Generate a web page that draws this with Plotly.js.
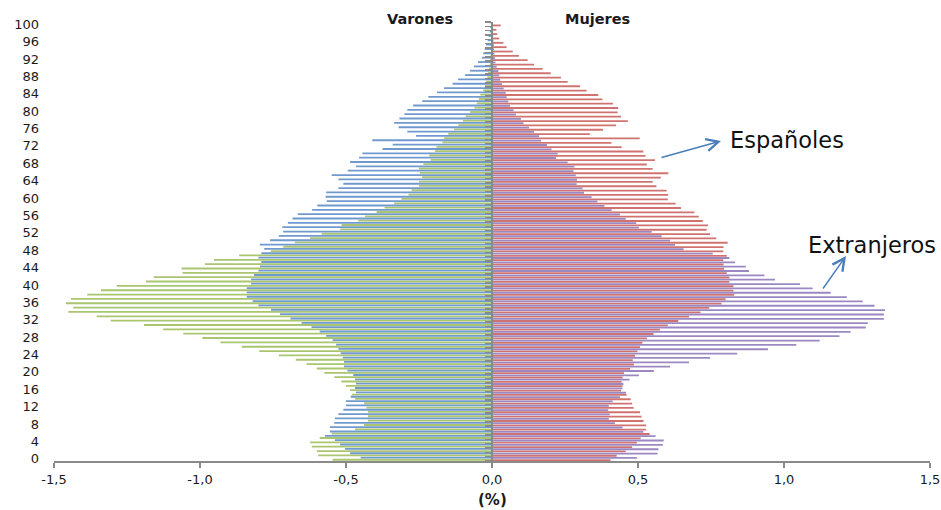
<!DOCTYPE html>
<html>
<head>
<meta charset="utf-8">
<script src="https://cdn.plot.ly/plotly-3.0.1.min.js"></script>
<style>html,body{margin:0;padding:0;background:#fff}#chart{width:941px;height:510px}</style>
</head>
<body>
<div id="chart"></div>
<script>
// Ages 0..100
const ages = Array.from({length: 101}, (_, i) => i);
const ageTicks = [0,4,8,12,16,20,24,28,32,36,40,44,48,52,56,60,64,68,72,76,80,84,88,92,96,100];
const xTicks = [-1.5,-1.0,-0.5,0,0.5,1.0,1.5];
const xTickText = ['-1,5','-1,0','-0,5','0,0','0,5','1,0','1,5'];

// Varones españoles (% , negative side)
const varonesEsp = [
-0.45,-0.486,-0.503,-0.52,-0.538,-0.572,-0.555,-0.555,-0.54,-0.538,
-0.526,-0.509,-0.50,-0.50,-0.484,-0.466,-0.469,-0.466,-0.469,-0.475,
-0.495,-0.507,-0.507,-0.511,-0.518,-0.526,-0.534,-0.546,-0.568,-0.59,
-0.618,-0.652,-0.69,-0.726,-0.757,-0.80,-0.82,-0.84,-0.84,-0.84,
-0.825,-0.825,-0.815,-0.80,-0.795,-0.79,-0.80,-0.79,-0.78,-0.795,
-0.76,-0.73,-0.715,-0.718,-0.699,-0.683,-0.665,-0.616,-0.598,-0.566,
-0.57,-0.568,-0.526,-0.509,-0.526,-0.549,-0.494,-0.466,-0.486,-0.455,
-0.444,-0.375,-0.34,-0.41,-0.26,-0.29,-0.32,-0.335,-0.317,-0.30,
-0.29,-0.27,-0.239,-0.218,-0.188,-0.164,-0.135,-0.116,-0.092,-0.075,
-0.062,-0.048,-0.035,-0.03,-0.025,-0.02,-0.015,-0.012,-0.008,-0.006,
-0.005];

// Varones extranjeros
const varonesExt = [
-0.546,-0.595,-0.60,-0.617,-0.623,-0.59,-0.549,-0.469,-0.438,-0.425,
-0.425,-0.425,-0.43,-0.438,-0.469,-0.48,-0.486,-0.50,-0.516,-0.54,
-0.574,-0.60,-0.635,-0.672,-0.73,-0.797,-0.857,-0.93,-0.992,-1.057,
-1.126,-1.192,-1.306,-1.354,-1.451,-1.434,-1.459,-1.442,-1.386,-1.339,
-1.285,-1.185,-1.158,-1.06,-1.063,-0.983,-0.952,-0.866,-0.757,-0.715,
-0.675,-0.623,-0.583,-0.52,-0.515,-0.458,-0.435,-0.395,-0.368,-0.335,
-0.31,-0.286,-0.275,-0.25,-0.25,-0.24,-0.247,-0.25,-0.235,-0.21,
-0.215,-0.195,-0.19,-0.17,-0.164,-0.15,-0.13,-0.115,-0.10,-0.09,
-0.075,-0.06,-0.052,-0.045,-0.04,-0.03,-0.024,-0.02,-0.016,-0.013,
-0.01,-0.008,-0.006,-0.005,-0.004,-0.003,-0.002,-0.002,-0.001,-0.001,
-0.001];

// Mujeres españolas
const mujeresEsp = [
0.406,0.427,0.458,0.48,0.496,0.509,0.54,0.527,0.528,0.519,
0.512,0.507,0.485,0.48,0.475,0.461,0.442,0.447,0.444,0.447,
0.452,0.473,0.486,0.482,0.49,0.498,0.507,0.515,0.531,0.553,
0.575,0.602,0.638,0.675,0.714,0.744,0.786,0.80,0.829,0.827,
0.827,0.813,0.813,0.804,0.795,0.793,0.792,0.804,0.792,0.793,
0.807,0.768,0.747,0.735,0.74,0.722,0.708,0.693,0.647,0.629,
0.602,0.603,0.598,0.563,0.55,0.578,0.604,0.55,0.53,0.558,
0.526,0.518,0.444,0.409,0.506,0.335,0.38,0.425,0.465,0.442,
0.43,0.432,0.414,0.378,0.364,0.324,0.301,0.259,0.236,0.201,
0.173,0.144,0.122,0.092,0.071,0.05,0.039,0.025,0.018,0.015,
0.03];

// Mujeres extranjeras
const mujeresExt = [
0.496,0.567,0.57,0.585,0.588,0.56,0.518,0.447,0.421,0.40,
0.403,0.398,0.40,0.413,0.438,0.459,0.447,0.45,0.471,0.503,
0.554,0.61,0.675,0.747,0.84,0.945,1.042,1.122,1.19,1.228,
1.28,1.287,1.342,1.342,1.346,1.31,1.27,1.215,1.16,1.098,
1.055,0.969,0.933,0.88,0.869,0.832,0.813,0.756,0.656,0.627,
0.61,0.581,0.547,0.503,0.494,0.458,0.438,0.41,0.385,0.361,
0.341,0.315,0.31,0.29,0.291,0.287,0.279,0.282,0.259,0.219,
0.225,0.204,0.188,0.168,0.161,0.144,0.127,0.108,0.099,0.082,
0.074,0.062,0.056,0.05,0.047,0.04,0.034,0.028,0.025,0.022,
0.016,0.012,0.01,0.008,0.007,0.006,0.005,0.004,0.003,0.002,
0.002];

const FONT = 'DejaVu Sans, sans-serif';

function barTrace(name, xs, color, offset, yax) {
  return {
    type: 'bar', orientation: 'h', name: name,
    x: xs, y: ages, yaxis: yax,
    width: 0.42, offset: offset,
    marker: {color: color, line: {width: 0}},
    hoverinfo: 'x+y'
  };
}

const data = [
  barTrace('Varones extranjeros', varonesExt, '#A9C56F', -0.42, 'y'),
  barTrace('Varones españoles', varonesEsp, '#7099CE', 0.08, 'y'),
  barTrace('Mujeres españolas', mujeresEsp, '#D07370', -0.5, 'y2'),
  barTrace('Mujeres extranjeras', mujeresExt, '#9B88C3', 0.0, 'y2')
];

const W = 941, H = 510;
const mL = 54, mR = 11, mT = 22, mB = 49;
const pw = W - mL - mR, ph = H - mT - mB;
const px = x => (x - mL) / pw;
const py = y => (H - mB - y) / ph;

const layout = {
  width: W, height: H,
  margin: {l: mL, r: mR, t: mT, b: mB, pad: 0},
  paper_bgcolor: '#ffffff', plot_bgcolor: '#ffffff',
  barmode: 'overlay',
  showlegend: false,
  font: {family: FONT, color: '#1a1a1a', size: 13},
  xaxis: {
    range: [-1.5, 1.5], tickvals: xTicks, ticktext: xTickText,
    showgrid: false, zeroline: false,
    showline: true, linecolor: '#8a8a8a', linewidth: 2,
    ticks: 'outside', ticklen: 5, tickwidth: 2, tickcolor: '#8a8a8a',
    tickfont: {family: FONT, size: 13, color: '#1a1a1a'},
    fixedrange: true
  },
  yaxis: {
    range: [-0.5, 100.5], tickvals: ageTicks,
    showgrid: false, zeroline: false, showline: false, ticks: '',
    ticklabelstandoff: 14,
    tickfont: {family: FONT, size: 13, color: '#1a1a1a'},
    fixedrange: true
  },
  yaxis2: {
    overlaying: 'y', anchor: 'free', position: 0.5, side: 'left',
    range: [-0.5, 100.5], tick0: 0.5, dtick: 1,
    showticklabels: false, showgrid: false, zeroline: false,
    showline: true, linecolor: '#8a8a8a', linewidth: 2,
    ticks: 'outside', ticklen: 6, tickwidth: 1.5, tickcolor: '#8a8a8a',
    fixedrange: true
  },
  annotations: [
    {text: '<b>Varones</b>', xref: 'paper', yref: 'paper', x: px(420), y: py(19),
     xanchor: 'center', yanchor: 'middle', showarrow: false, font: {family: FONT, size: 14.5, color: '#1a1a1a'}},
    {text: '<b>Mujeres</b>', xref: 'paper', yref: 'paper', x: px(597), y: py(19),
     xanchor: 'center', yanchor: 'middle', showarrow: false, font: {family: FONT, size: 14.5, color: '#1a1a1a'}},
    {text: '<b>(%)</b>', xref: 'paper', yref: 'paper', x: px(492), y: py(500),
     xanchor: 'center', yanchor: 'middle', showarrow: false, font: {family: FONT, size: 15, color: '#1a1a1a'}},
    {text: 'Españoles', xref: 'paper', yref: 'paper', x: px(728), y: py(140),
     xanchor: 'left', yanchor: 'middle', showarrow: false, font: {family: FONT, size: 22.5, color: '#111'}},
    {text: 'Extranjeros', xref: 'paper', yref: 'paper', x: px(806), y: py(245),
     xanchor: 'left', yanchor: 'middle', showarrow: false, font: {family: FONT, size: 22.5, color: '#111'}},
    {text: '', xref: 'paper', yref: 'paper', x: px(721), y: py(141), ax: -61, ay: 17,
     showarrow: true, arrowhead: 5, arrowsize: 1.6, arrowwidth: 1.5, arrowcolor: '#4A7EBB'},
    {text: '', xref: 'paper', yref: 'paper', x: px(846), y: py(256), ax: -24, ay: 34,
     showarrow: true, arrowhead: 5, arrowsize: 1.6, arrowwidth: 1.5, arrowcolor: '#4A7EBB'}
  ]
};

Plotly.newPlot('chart', data, layout, {displayModeBar: false, staticPlot: true});
</script>
</body>
</html>
